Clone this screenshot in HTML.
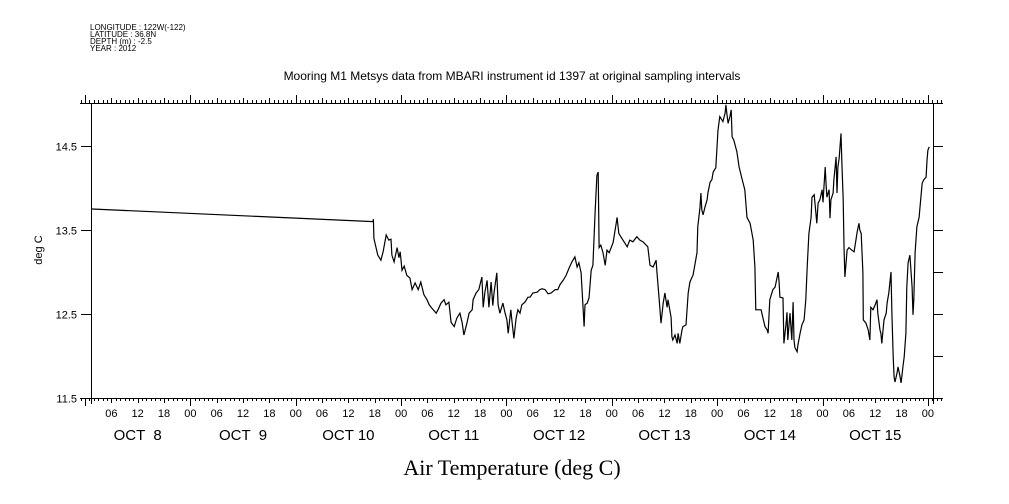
<!DOCTYPE html>
<html><head><meta charset="utf-8"><style>
html,body{margin:0;padding:0;background:#fff;}
svg{display:block;font-family:"Liberation Sans",sans-serif;}
</style></head><body>
<svg id="chart" width="1009" height="504" viewBox="0 0 1009 504" xmlns="http://www.w3.org/2000/svg">
<g font-size="8" fill="#000">
<text x="90" y="30">LONGITUDE : 122W(-122)</text>
<text x="90" y="37">LATITUDE : 36.8N</text>
<text x="90" y="44">DEPTH (m) : -2.5</text>
<text x="90" y="51">YEAR : 2012</text>
</g>
<text x="512" y="80" font-size="12" text-anchor="middle">Mooring M1 Metsys data from MBARI instrument id 1397 at original sampling intervals</text>
<text x="42" y="250" font-size="11" text-anchor="middle" transform="rotate(-90 42 250)">deg C</text>
<text x="512" y="475" font-size="22" text-anchor="middle" font-family="Liberation Serif, serif">Air Temperature (deg C)</text>
<g id="axes"></g>
<g id="series"></g>
</svg>
<script>
const hours=[1.6,65.6,65.7,65.8,66.7,67.4,67.9,68.6,69.2,69.7,69.9,70.4,71.1,71.5,71.8,72.2,72.7,73.3,74.0,74.5,75.2,75.9,76.5,77.2,77.9,78.4,79.0,80.0,80.4,81.1,81.8,82.2,82.9,83.4,84.1,84.7,85.4,85.9,86.3,87.0,87.5,88.2,88.4,89.1,89.7,90.4,90.7,91.1,91.6,92.0,92.5,92.9,93.2,93.8,94.1,94.5,95.2,95.7,96.1,96.4,97.0,97.3,97.7,98.2,98.6,99.1,99.5,100.2,100.9,101.4,102.0,103.0,103.6,104.1,104.8,105.5,106.2,107.1,107.7,108.2,108.9,109.6,110.3,110.9,111.6,112.1,112.5,113.0,113.4,113.7,113.9,114.4,114.8,115.3,115.7,116.2,116.6,116.9,117.1,117.5,118.0,118.5,118.9,119.4,120.3,121.0,121.2,121.6,122.3,123.5,124.1,124.8,125.7,126.4,127.1,128.2,128.7,129.4,130.1,130.3,130.8,131.2,131.7,132.1,132.6,132.8,133.5,133.7,133.9,134.4,134.9,135.1,135.5,136.0,136.2,136.9,137.4,137.8,138.3,138.5,139.4,139.6,140.1,140.3,140.5,140.8,141.2,141.7,141.9,142.4,142.8,143.1,143.7,144.2,144.6,145.1,145.3,145.8,146.0,146.2,146.5,146.9,147.2,147.4,147.8,148.5,149.0,149.7,150.3,150.8,151.5,152.2,152.6,152.8,153.3,154.0,154.4,154.9,155.4,155.6,156.0,156.7,157.2,157.9,158.1,158.3,159.0,159.2,159.7,159.9,160.1,160.6,161.0,161.3,161.5,161.7,162.2,162.4,162.9,163.3,163.8,164.2,164.5,164.9,165.4,165.6,166.1,166.5,166.7,167.0,167.4,167.9,168.1,168.6,168.8,169.0,169.5,169.7,169.9,170.4,170.6,171.1,171.3,171.5,171.8,172.2,172.4,172.7,172.9,173.1,173.6,174.0,174.7,175.2,175.6,175.9,176.3,176.5,176.8,177.2,177.3,177.9,178.4,178.8,179.0,179.5,180.0,180.4,180.6,181.1,181.3,181.5,182.0,182.5,182.7,183.1,183.6,183.8,184.1,184.3,184.5,185.0,185.2,185.6,185.9,186.3,186.6,187.0,187.2,187.5,187.9,188.4,188.6,188.8,189.1,189.5,190.0,190.4,190.7,191.1,191.6,191.8,192.0,192.3];
const temps=[13.75,13.60,13.63,13.40,13.20,13.14,13.24,13.44,13.38,13.39,13.20,13.12,13.29,13.17,13.24,13.02,13.07,12.96,12.93,12.79,12.87,12.79,12.88,12.73,12.67,12.61,12.57,12.51,12.55,12.63,12.67,12.61,12.64,12.40,12.35,12.45,12.51,12.40,12.25,12.39,12.51,12.55,12.67,12.75,12.79,12.94,12.58,12.76,12.90,12.58,12.88,12.60,12.76,12.99,12.61,12.51,12.63,12.51,12.43,12.27,12.55,12.40,12.21,12.45,12.55,12.51,12.61,12.64,12.70,12.70,12.75,12.76,12.79,12.80,12.79,12.74,12.75,12.79,12.79,12.85,12.90,12.96,13.05,13.12,13.18,13.06,13.11,12.99,12.63,12.35,12.61,12.63,12.69,13.02,13.08,13.71,14.15,14.19,13.29,13.32,13.23,13.08,13.26,13.23,13.35,13.58,13.65,13.46,13.40,13.30,13.38,13.36,13.42,13.38,13.36,13.30,13.08,13.06,13.14,12.99,12.67,12.39,12.63,12.75,12.58,12.67,12.46,12.23,12.19,12.25,12.15,12.27,12.15,12.31,12.35,12.37,12.75,12.88,12.94,12.96,13.23,13.54,13.77,13.94,13.74,13.68,13.77,13.86,13.94,14.07,14.10,14.19,14.24,14.69,14.85,14.81,14.79,14.89,14.99,14.89,14.77,14.85,14.93,14.61,14.57,14.43,14.25,14.10,13.98,13.65,13.58,13.38,13.06,12.55,12.55,12.55,12.46,12.35,12.31,12.27,12.67,12.79,12.82,13.00,12.88,12.70,12.69,12.15,12.39,12.52,12.19,12.51,12.19,12.64,12.19,12.10,12.05,12.13,12.27,12.37,12.43,12.67,13.06,13.46,13.65,13.89,13.92,13.70,13.58,13.82,13.86,13.98,13.83,14.25,14.06,13.89,13.98,13.64,13.86,13.94,14.10,14.37,13.94,14.25,14.36,14.65,14.33,13.86,13.30,12.94,13.26,13.29,13.26,13.24,13.38,13.48,13.58,13.50,13.46,12.99,12.43,12.39,12.31,12.19,12.58,12.55,12.61,12.67,12.51,12.31,12.27,12.15,12.43,12.51,12.63,12.75,13.00,12.51,11.99,11.75,11.69,11.80,11.87,11.77,11.68,11.87,11.99,12.27,12.82,13.11,13.20,12.82,12.49,12.67,13.23,13.54,13.65,13.89,14.06,14.10,14.13,14.33,14.45,14.49];
const yTicks=[11.5,12.5,13.5,14.5];
const yMinorTicks=[12.0,13.0,14.0];
const hourLabels=["00","06","12","18"];
const dayLabels=["OCT  8","OCT  9","OCT 10","OCT 11","OCT 12","OCT 13","OCT 14","OCT 15"];

const NS="http://www.w3.org/2000/svg";
const L=91,R=933,T=103,B=398;
const X0=85,PX_PER_H=4.39;
function xs(h){return X0+h*PX_PER_H;}
function ys(v){return B-(v-11.5)*84;}
const axes=document.getElementById('axes');
const series=document.getElementById('series');
function mk(tag,attrs,parent){const e=document.createElementNS(NS,tag);for(const k in attrs)e.setAttribute(k,attrs[k]);parent.appendChild(e);return e;}
function line(x1,y1,x2,y2,name){const e=mk('line',{x1:x1,y1:y1,x2:x2,y2:y2,stroke:'#000','stroke-width':1,'shape-rendering':'crispEdges'},axes);

return e;}
line(80,B+0.5,943,B+0.5,'x-axis-bottom');
line(80,T+0.5,943,T+0.5,'x-axis-top');
line(L+0.5,T,L+0.5,B+6,'y-axis-left');
line(R+0.5,T,R+0.5,B+6,'y-axis-right');
for(let h=-1;h<=195;h++){
  const x=Math.round(xs(h))+0.5;
  const len=(h%24===0)?8:(h%6===0?5:3);
  line(x,B,x,B+len,'x-tick-bottom');
  line(x,T,x,T-len,'x-tick-top');
  if(h%6===0&&h>0){
    const t=mk('text',{x:xs(h),y:B+19,'font-size':11,'text-anchor':'middle'},axes);
    
    
    t.textContent=hourLabels[(h%24)/6];
  }
}
dayLabels.forEach((d,i)=>{
  const t=mk('text',{x:xs(i*24+12),y:440,'font-size':15,'text-anchor':'middle','xml:space':'preserve'},axes);
  
  
  t.style.whiteSpace='pre';
  t.textContent=d;
});
yTicks.forEach(v=>{
  const y=Math.round(ys(v))+0.5;
  line(L-10,y,L,y,'y-tick-left');
  line(R,y,R+10,y,'y-tick-right');
  const t=mk('text',{x:L-14,y:y+4,'font-size':11,'text-anchor':'end'},axes);
  
  
  t.textContent=v.toFixed(1);
});
yMinorTicks.forEach(v=>{
  const y=Math.round(ys(v))+0.5;
  line(R,y,R+10,y,'y-tick-right');
});
let d='';
hours.forEach((h,i)=>{d+=(i?'L':'M')+xs(h).toFixed(1)+' '+ys(temps[i]).toFixed(1);});
const p=mk('path',{d:d,fill:'none',stroke:'#000','stroke-width':1.2},series);


</script>
</body></html>
